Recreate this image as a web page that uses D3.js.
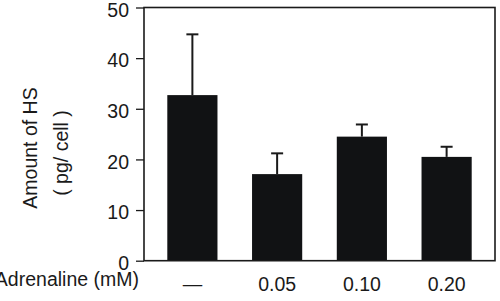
<!DOCTYPE html>
<html><head><meta charset="utf-8">
<script src="https://cdn.jsdelivr.net/npm/d3@7"></script>
<style>body{margin:0;background:#fff;} svg{display:block;} text{font-family:Arial,"Liberation Sans",Helvetica,sans-serif;fill:#1a1a1a;}</style>
</head><body><svg id="chart" width="500" height="301"></svg>
<script>
const categories = ["—", "0.05", "0.10", "0.20"];
const values = [32.7, 17.1, 24.5, 20.5];
const errors = [12.0, 4.1, 2.4, 2.0];
const yTicks = [0, 10, 20, 30, 40, 50];
const xTitle = "Adrenaline (mM)";
const yTitle1 = "Amount of HS";
const yTitle2 = "( pg/ cell )";

const svg = d3.select("#chart");
const L = 144, R = 495, T = 7.5, B = 260.7;
const FS = 19.5;
const x = d3.scaleBand().domain(categories).range([L, R]).paddingInner(0.408).paddingOuter(0.275);
const y = d3.scaleLinear().domain([0, 50]).range([B, T]);

// bars
svg.selectAll("rect.bar").data(values).enter().append("rect")
  .attr("class", "bar")
  .attr("x", (d, i) => x(categories[i]))
  .attr("width", x.bandwidth())
  .attr("y", d => y(d))
  .attr("height", d => y(0) - y(d))
  .attr("fill", "#111214");

// error bars
const eg = svg.append("g").attr("stroke", "#1a1a1a").attr("stroke-width", 2);
values.forEach((v, i) => {
  const cx = x(categories[i]) + x.bandwidth() / 2;
  eg.append("line").attr("x1", cx).attr("x2", cx).attr("y1", y(v)).attr("y2", y(v + errors[i]));
  eg.append("line").attr("x1", cx - 6).attr("x2", cx + 6).attr("y1", y(v + errors[i])).attr("y2", y(v + errors[i]));
});

// frame
svg.append("rect").attr("x", L).attr("y", T).attr("width", R - L).attr("height", B - T)
  .attr("fill", "none").attr("stroke", "#1a1a1a").attr("stroke-width", 1.6);

// y axis
const yAxis = d3.axisLeft(y).tickValues(yTicks).tickSize(8).tickPadding(7).tickSizeOuter(0);
const ga = svg.append("g").attr("transform", `translate(${L},0)`).call(yAxis);
ga.select(".domain").remove();
ga.selectAll("line").attr("stroke", "#1a1a1a").attr("stroke-width", 1.3);
ga.selectAll("text").attr("font-size", FS).attr("fill", "#1a1a1a").attr("dy", "0.44em")
  .attr("font-family", "Arial,'Liberation Sans',sans-serif");

// x labels
const xAxis = d3.axisBottom(x).tickSize(0).tickPadding(0);
const gx = svg.append("g").attr("transform", `translate(0,${B})`).call(xAxis);
gx.select(".domain").remove();
gx.selectAll("text").attr("font-size", FS).attr("fill", "#1a1a1a").attr("dy", null).attr("y", 30)
  .attr("font-family", "Arial,'Liberation Sans',sans-serif");

svg.append("text").attr("x", 139).attr("y", 285.5).attr("text-anchor", "end").attr("font-size", FS).text(xTitle);

svg.append("text").attr("transform", "translate(37,148) rotate(-90)").attr("text-anchor", "middle").attr("font-size", FS).text(yTitle1);
svg.append("text").attr("transform", "translate(68,153) rotate(-90)").attr("text-anchor", "middle").attr("font-size", FS).text(yTitle2);
</script></body></html>
